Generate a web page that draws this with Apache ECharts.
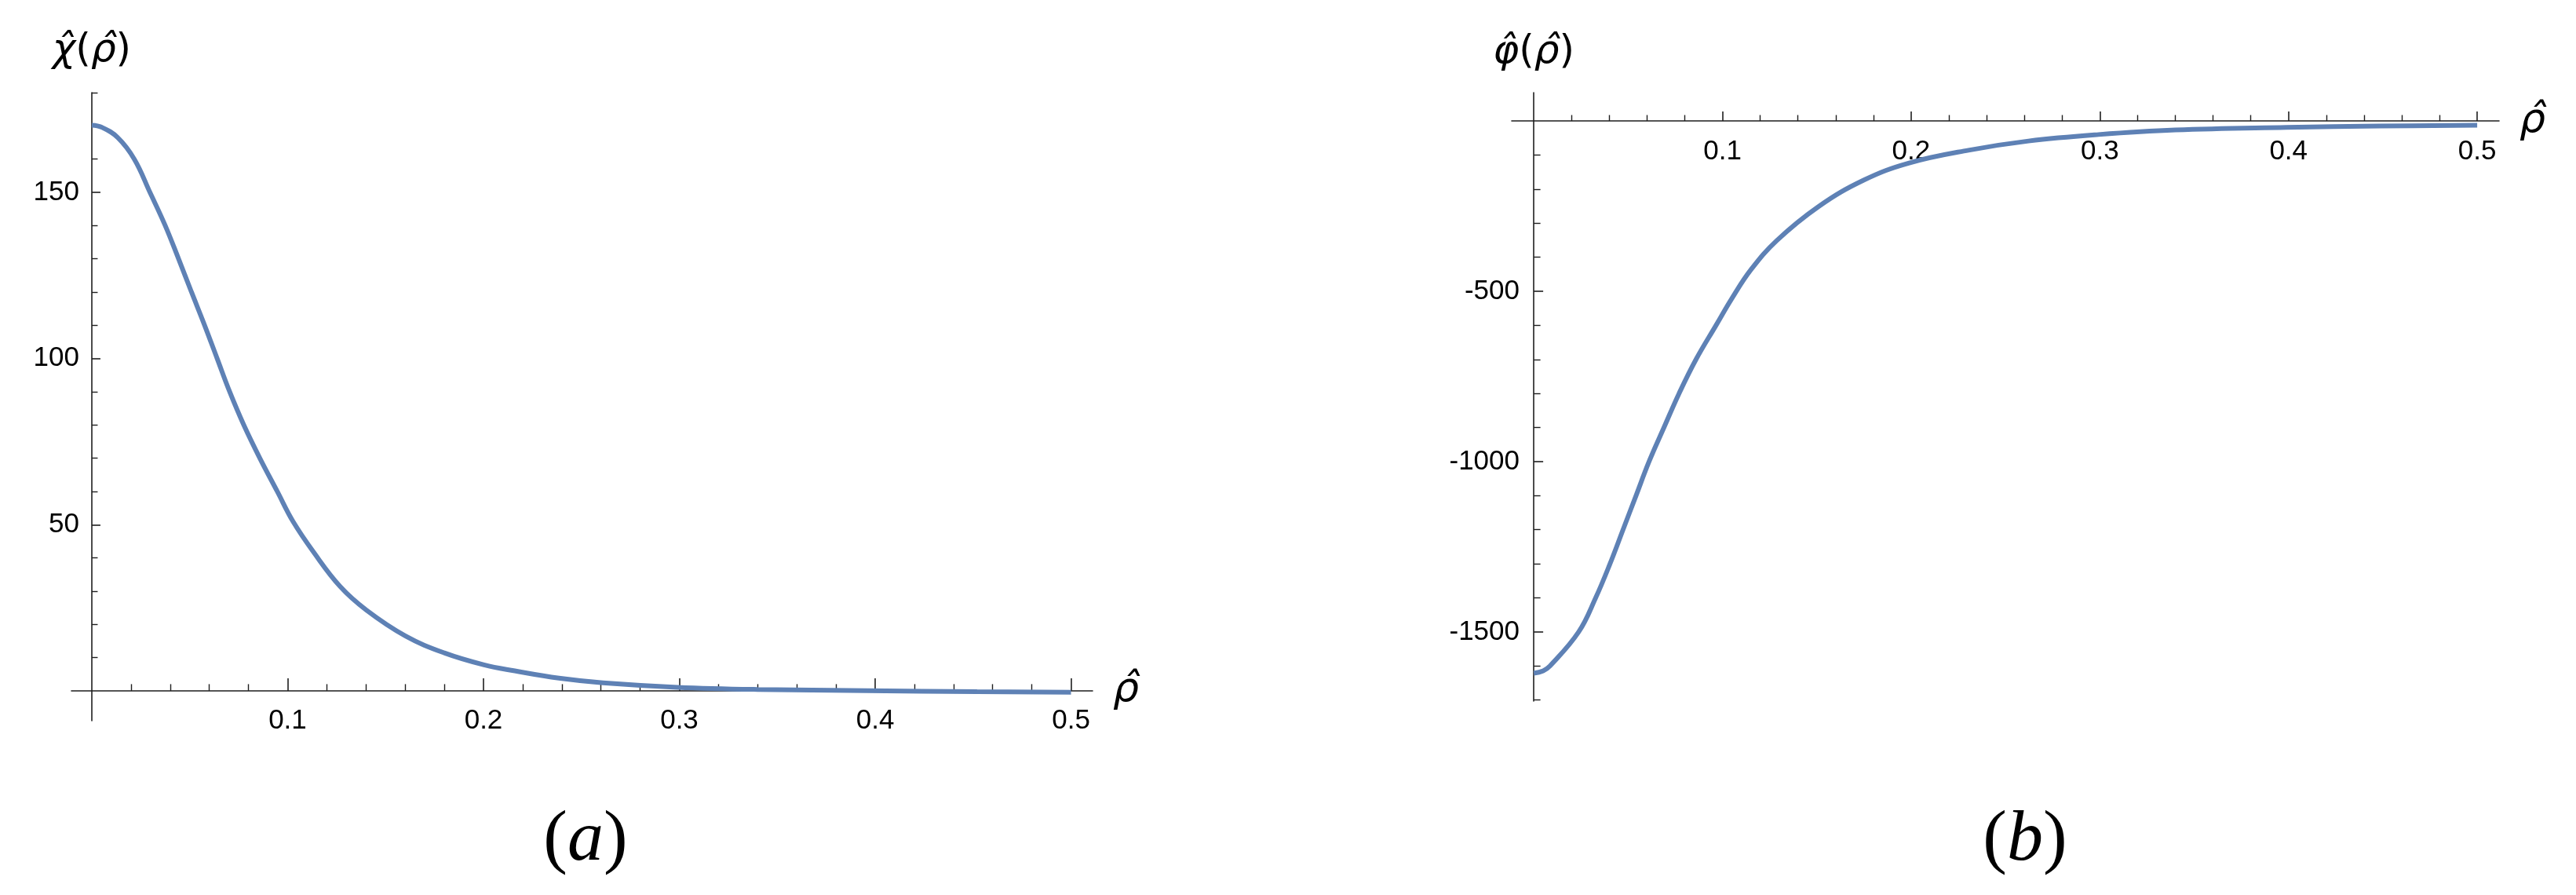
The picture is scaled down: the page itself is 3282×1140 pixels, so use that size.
<!DOCTYPE html>
<html>
<head>
<meta charset="utf-8">
<script src="https://cdn.jsdelivr.net/npm/echarts@6/dist/echarts.min.js"></script>
<style>
html, body { margin: 0; padding: 0; background: #fff; }
#chart { width: 3282px; height: 1140px; }
</style>
</head>
<body>
<div id="chart"></div>
<script>
// ---- data ----
const rhoA = [0, 0.005, 0.0132, 0.0217, 0.0297, 0.0375, 0.0443, 0.0509, 0.0576, 0.064, 0.0704, 0.0776, 0.0858, 0.0947, 0.1027, 0.1134, 0.1268, 0.1402, 0.1602, 0.18, 0.2003, 0.216, 0.2385, 0.261, 0.299, 0.34, 0.396, 0.452, 0.5];
const chiA = [170.2, 169.6, 166.5, 160, 150, 140, 130, 120, 110, 100, 90, 80, 70, 60, 51.0, 41.6, 31.4, 24.3, 16.5, 11.4, 7.8, 6.0, 3.8, 2.4, 1.06, 0.4, 0.05, -0.28, -0.42];

const rhoB = [0, 0.005, 0.0086, 0.0238, 0.0328, 0.0404, 0.0473, 0.0542, 0.0611, 0.069, 0.077, 0.086, 0.0966, 0.105, 0.1152, 0.1288, 0.151, 0.1748, 0.1986, 0.2304, 0.2622, 0.2993, 0.34, 0.3989, 0.4485, 0.5];
const phiB = [-1621, -1614, -1600, -1500, -1400, -1300, -1200, -1100, -1000, -900, -800, -700, -600, -521, -436, -351, -251, -174, -124, -86, -59, -40, -26.5, -19, -15, -12.7];

const xMajorTicks = [0.1, 0.2, 0.3, 0.4, 0.5];
const xMinorTicks = [0.02, 0.04, 0.06, 0.08, 0.12, 0.14, 0.16, 0.18, 0.22, 0.24, 0.26, 0.28, 0.32, 0.34, 0.36, 0.38, 0.42, 0.44, 0.46, 0.48];
const chiMajorTicks = [50, 100, 150];
const chiMinorTicks = [10, 20, 30, 40, 60, 70, 80, 90, 110, 120, 130, 140, 160, 170, 180];
const phiMajorTicks = [-500, -1000, -1500];
const phiMinorTicks = [-100, -200, -300, -400, -600, -700, -800, -900, -1100, -1200, -1300, -1400, -1600, -1700];

const xName = 'ρ̂';
const chiName = ['χ̂', 'ρ̂'];
const phiName = ['φ̂', 'ρ̂'];
const panelLetters = ['a', 'b'];

// ---- styling ----
const AXIS_COLOR = '#1e1e1e';
const LINE_COLOR = '#5E81B5';
const TICK_FONT = { fontFamily: 'Liberation Sans', fontSize: 35, color: '#000' };
const GREEK = 'DejaVu Sans';

function fmt(v) { return String(v); }

function mainX(gridIndex, yIdx, min, max, majLen, labelMargin) {
  return {
    type: 'value', gridIndex: gridIndex, min: min, max: max, position: 'bottom',
    axisLine: { show: true, onZero: true, onZeroAxisIndex: yIdx, lineStyle: { color: AXIS_COLOR, width: 1.6 } },
    axisTick: { show: true, inside: true, length: majLen, customValues: xMajorTicks, lineStyle: { color: AXIS_COLOR, width: 1.6 } },
    axisLabel: { show: true, customValues: xMajorTicks, margin: labelMargin, formatter: fmt, ...TICK_FONT },
    splitLine: { show: false },
    name: xName, nameLocation: 'end', nameGap: 26,
    nameTextStyle: { fontFamily: GREEK, fontStyle: 'italic', fontSize: 52, color: '#000', verticalAlign: 'middle' }
  };
}
function minorX(gridIndex, yIdx, min, max, len) {
  return {
    type: 'value', gridIndex: gridIndex, min: min, max: max, position: 'bottom',
    axisLine: { show: false, onZero: true, onZeroAxisIndex: yIdx },
    axisTick: { show: true, inside: true, length: len, customValues: xMinorTicks, lineStyle: { color: AXIS_COLOR, width: 1.4 } },
    axisLabel: { show: false },
    splitLine: { show: false }
  };
}
function mainY(gridIndex, xIdx, min, max, majTicks, majLen, nameParts, nameGap, labelMargin) {
  return {
    type: 'value', gridIndex: gridIndex, min: min, max: max, position: 'left',
    axisLine: { show: true, onZero: true, onZeroAxisIndex: xIdx, lineStyle: { color: AXIS_COLOR, width: 1.6 } },
    axisTick: { show: true, inside: true, length: majLen, customValues: majTicks, lineStyle: { color: AXIS_COLOR, width: 1.6 } },
    axisLabel: { show: true, customValues: majTicks, margin: labelMargin, formatter: fmt, ...TICK_FONT },
    splitLine: { show: false },
    name: '{i|' + nameParts[0] + '}{p|(}{i|' + nameParts[1] + '}{p|)}',
    nameLocation: 'end', nameGap: nameGap,
    nameTextStyle: {
      rich: {
        i: { fontFamily: GREEK, fontStyle: 'italic', fontSize: 50, color: '#000' },
        p: { fontFamily: GREEK, fontSize: 50, color: '#000' }
      }
    }
  };
}
function minorY(gridIndex, xIdx, min, max, ticks, len) {
  return {
    type: 'value', gridIndex: gridIndex, min: min, max: max, position: 'left',
    axisLine: { show: false, onZero: true, onZeroAxisIndex: xIdx },
    axisTick: { show: true, inside: true, length: len, customValues: ticks, lineStyle: { color: AXIS_COLOR, width: 1.4 } },
    axisLabel: { show: false },
    splitLine: { show: false }
  };
}

const chart = echarts.init(document.getElementById('chart'), null, { renderer: 'canvas' });

const option = {
  backgroundColor: '#fff',
  animation: false,
  grid: [
    { left: 91, top: 118, width: 1301, height: 800 },
    { left: 1926, top: 118, width: 1258, height: 775 }
  ],
  xAxis: [
    mainX(0, 0, -0.0104, 0.511, 16, -17),
    minorX(0, 0, -0.0104, 0.511, 8.5),
    mainX(1, 2, -0.0117, 0.5116, 12, -717),
    minorX(1, 2, -0.0117, 0.5116, 7.5)
  ],
  yAxis: [
    mainY(0, 0, -9, 180, chiMajorTicks, 11, chiName, 28, -10),
    minorY(0, 0, -9, 180, chiMinorTicks, 7.5),
    mainY(1, 2, -1703, 83, phiMajorTicks, 12, phiName, 26, -10),
    minorY(1, 2, -1703, 83, phiMinorTicks, 8.5)
  ],
  series: [
    {
      type: 'line', xAxisIndex: 0, yAxisIndex: 0,
      data: rhoA.map((r, i) => [r, chiA[i]]),
      showSymbol: false, smooth: 0.4,
      lineStyle: { color: LINE_COLOR, width: 6 }, itemStyle: { color: LINE_COLOR },
      clip: false
    },
    {
      type: 'line', xAxisIndex: 2, yAxisIndex: 2,
      data: rhoB.map((r, i) => [r, phiB[i]]),
      showSymbol: false, smooth: 0.4,
      lineStyle: { color: LINE_COLOR, width: 6 }, itemStyle: { color: LINE_COLOR },
      clip: false
    }
  ],
  graphic: panelLetters.map((letter, k) => ({
    type: 'text',
    x: k === 0 ? 746 : 2580,
    y: 1071,
    style: {
      text: '{p|(}{i|' + letter + '}{p|)}',
      align: 'center',
      verticalAlign: 'middle',
      rich: {
        p: { fontFamily: 'Liberation Serif', fontSize: 92, fill: '#000' },
        i: { fontFamily: 'Liberation Serif', fontStyle: 'italic', fontSize: 92, fill: '#000' }
      }
    }
  }))
};

chart.setOption(option);
</script>
</body>
</html>
